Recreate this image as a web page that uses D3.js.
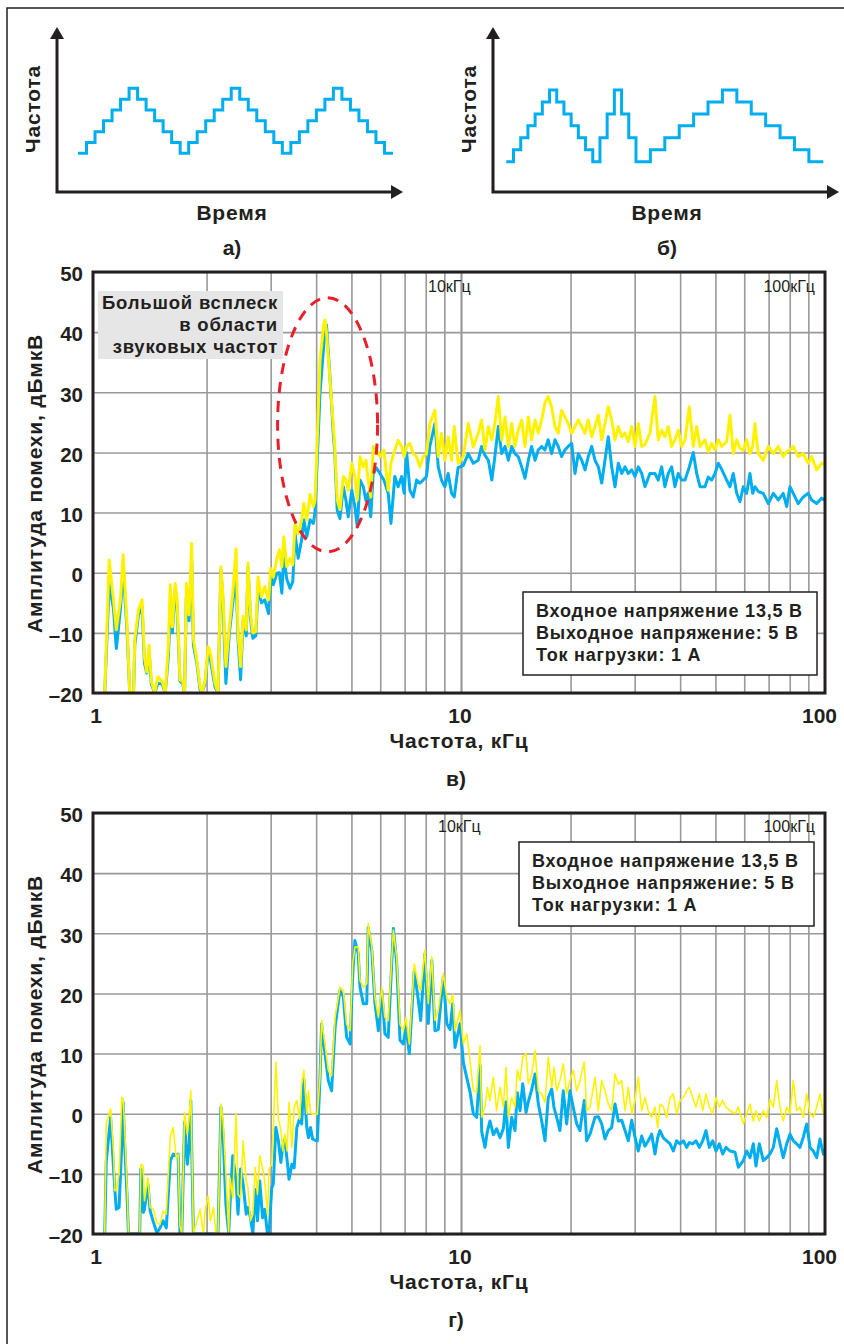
<!DOCTYPE html>
<html>
<head>
<meta charset="utf-8">
<script src="https://cdn.jsdelivr.net/npm/d3@7"></script>
<style>
body { margin: 0; background: #fff; }
text { font-family: "Liberation Sans", Arial, sans-serif; fill: #231f20; }
</style>
</head>
<body>
<svg id="fig" width="844" height="1344"></svg>
<script>
// ---- step diagrams (a, б): frequency level per time slot
var levelsA = [0,1,2,3,4,5,6,5,4,3,2,1,0,1,2,3,4,5,6,5,4,3,2,1,0,1,2,3,4,5,6,5,4,3,2,1,0];
var slotsA  = [1,1,1,1,1,1,1,1,1,1,1,1,1,1,1,1,1,1,1,1,1,1,1,1,1,1,1,1,1,1,1,1,1,1,1,1,1];
var levelsB = [0,1,2,3,4,5,6,5,4,3,2,1,0,2,4,6,4,2,0,1,2,3,4,5,6,5,4,3,2,1,0];
var slotsB  = [1,1,1,1,1,1,1,1,1,1,1,1,1,1,1,1,1,1,2,2,2,2,2,2,2,2,2,2,2,2,2];

// ---- spectrum axes
var yTicks = [50,40,30,20,10,0,-10,-20];
var xGrid = [2,3,4,5,6,7,8,9,10,20,30,40,50,60,70,80,90];
var xLabels = [1,10,100];

// ---- spectrum в) (kHz, dBuV)
var freqV = [
  1.05,1.08,1.11,1.13,1.16,1.18,1.21,1.23,1.26,1.27,
  1.30,1.33,1.35,1.37,1.39,1.41,1.44,1.47,1.51,1.54,
  1.57,1.59,1.61,1.64,1.66,1.69,1.72,1.74,1.76,1.79,
  1.82,1.84,1.88,1.92,1.94,1.98,2.02,2.05,2.11,2.15,
  2.19,2.22,2.26,2.31,2.36,2.41,2.44,2.48,2.52,2.57,
  2.60,2.64,2.68,2.73,2.77,2.83,2.89,2.96,3.00,3.05,
  3.12,3.17,3.22,3.26,3.32,3.39,3.45,3.50,3.57,3.65,
  3.70,3.77,3.85,3.93,3.97,4.01,4.10,4.20,4.23,4.27,
  4.36,4.46,4.50,4.57,4.65,4.75,4.83,4.90,5.01,5.11,
  5.19,5.28,5.39,5.48,5.56,5.65,5.74,5.86,5.99,6.14,
  6.31,6.42,6.58,6.72,6.87,6.98,7.09,7.24,7.39,7.55,
  7.71,7.87,8.04,8.21,8.48,8.66,8.84,9.03,9.22,9.42,
  9.58,9.82,10.14,10.47,10.81,11.15,11.39,11.64,11.89,12.15,
  12.39,12.66,12.93,13.21,13.49,13.78,14.06,14.36,14.68,14.99,
  15.31,15.63,15.97,16.30,16.66,17.00,17.36,17.74,18.12,18.50,
  18.89,19.29,19.70,20.14,20.57,21.00,21.46,21.91,22.37,22.86,
  23.34,23.84,24.36,24.86,25.39,25.94,26.49,27.05,27.64,28.22,
  28.81,29.44,30.06,30.70,31.36,32.02,33.04,34.10,34.82,35.58,
  36.33,37.10,37.90,38.70,39.52,40.40,41.25,42.39,43.47,44.41,
  45.35,46.80,47.78,48.82,49.86,50.91,52.02,53.69,54.82,55.98,
  57.20,58.40,59.63,60.92,62.21,63.28,64.20,65.55,67.66,69.87,
  72.10,74.41,76.79,78.47,80.11,81.81,84.41,87.14,89.94,91.90,
  94.85,97.93,100
];
var yellowV = [
  -20,2.1,-4.5,-9.5,-4.5,3,-9,-20,-20,-11,
  -6.2,-4.5,-14,-16.5,-12,-18,-20,-17.3,-18,-20,
  -12.3,-2,-9,-1.8,-4.5,-17.8,-18.1,-20,-1.8,-7,
  4.9,-11,-14.5,-19,-20,-18.1,-12.3,-13.4,-18.4,-20,
  1,-4,-15.6,-9,-3.4,4,-10,-15.6,-7.3,-9.5,
  1.6,-6.8,-10,-9.8,-0.7,-4,-2.3,-4.5,0.7,-0.7,
  2.4,3.8,1,6,1,2.4,1.3,8.2,6.5,8.8,
  11.5,8.8,13,11,12,18.7,35.4,41.5,42,40,
  32.6,24.3,21,12.1,10.5,16,15.4,13.7,18.2,16,
  12.1,19.3,17.6,18.7,15.4,12.6,21,20.4,19.3,20.4,
  13.7,18.2,20.4,22,21,19.3,21,21.5,19.8,19.3,
  17.6,19.3,19.8,24.8,27,19.3,23.2,18.7,22.6,18.7,
  24.3,18.2,19.3,24.8,20.9,23.2,25.4,20.4,24.3,22.1,
  24.8,29.3,22.1,25.9,21,24.8,21,23.7,25.4,21,
  25.9,22.1,25.4,23.2,25.4,28.2,29.3,27.6,24.3,23.2,
  27,25.9,24.8,23.2,24.3,25.4,24.3,23.2,25.4,22.6,
  24.3,26.2,22.1,24.8,27.6,25.4,22.1,24.3,22.6,23.2,
  21.8,24.3,21,24.8,21,21.3,23.2,29.3,22.1,23.7,
  22.6,24.3,21,22.1,23.7,21,22.1,27.6,21,24.3,
  21,22.1,20.1,21.5,20.4,22.1,21,21.8,26.2,19.8,
  22.1,20.7,20.3,22.1,19.8,21,24.8,19.8,18.7,21,
  19.8,21,19.3,20.1,20.4,21,19.3,19.8,18.2,19.3,
  17.1,18.2,18
];
var blueV = [
  -20,-1.8,-6,-12.6,-6,0.7,-10,-20,-20,-12,
  -7,-5.6,-15,-16.7,-13,-18.5,-20,-18.4,-18.5,-20,
  -14,-6.2,-10,-2.6,-6,-18,-18.5,-20,-4,-8,
  2.1,-12,-15,-19.5,-20,-18.5,-13,-14.5,-19,-20,
  0.5,-5,-18.4,-10,-5,-0.7,-11,-17.8,-8,-10.5,
  1,-7.5,-10.9,-10.5,-2.6,-5,-4.5,-6.8,-0.6,-2,
  -0.1,0,-3.4,3,-1,-2.6,-1.5,6.5,2.4,5.5,
  8.8,6,8.8,8.2,10,16,30,38,40,41.2,
  33,23,20,10.4,9,14.3,12,9.3,13.7,11,
  7.6,15.4,14.3,12,13.2,9.3,16.5,17.4,16.5,15.4,
  13.2,8.2,16,14.3,16,13.2,20,13.7,12.6,15.4,
  14.9,15.4,16,21,24.8,17.6,15.4,14.3,16.5,13.2,
  12.6,17.5,17.8,19.8,18.2,18.7,21,19.5,18.7,15.4,
  19.3,24.3,19.8,21,18.7,21,19.8,19.3,17.6,15.7,
  18.7,21,18.7,20.4,21,20.4,22.1,19.8,22.1,21,
  19.3,20.4,21,21.5,16.5,19.8,18.7,17.1,19.3,21,
  18.7,17.6,14.9,18.7,22.6,17.6,14.3,18.2,16.5,17.6,
  16.5,17.1,16,17.6,16.5,14.3,16.5,16.5,15.4,17.6,
  14.3,16.5,17.6,14.3,16.5,15.4,15.4,17.6,20,16.5,
  14.3,14.3,15.9,15.4,16.5,18.2,17.2,15.4,14.3,16.5,
  13.2,11.8,14.3,13.2,16.5,13.2,14.3,13.5,13.2,11.5,
  13.2,12.1,13.2,11,14.3,13.2,11.5,12.6,13.2,12.1,
  11.5,12.4,12
];

// ---- spectrum г) (kHz, dBuV)
var freqG = [
  1.05,1.06,1.09,1.11,1.12,1.13,1.15,1.17,1.18,1.19,
  1.21,1.22,1.31,1.32,1.34,1.35,1.38,1.40,1.43,1.46,
  1.49,1.52,1.55,1.59,1.62,1.65,1.67,1.69,1.71,1.74,
  1.77,1.79,1.81,1.84,1.92,1.96,1.98,2.02,2.05,2.09,
  2.12,2.15,2.19,2.22,2.26,2.30,2.32,2.36,2.41,2.44,
  2.48,2.52,2.57,2.60,2.64,2.68,2.72,2.76,2.80,2.85,
  2.89,2.94,2.97,3.02,3.05,3.10,3.15,3.20,3.24,3.28,
  3.33,3.37,3.43,3.48,3.54,3.60,3.65,3.70,3.77,3.81,
  3.86,3.91,3.97,4.03,4.10,4.14,4.23,4.32,4.41,4.51,
  4.65,4.75,4.85,4.96,5.04,5.11,5.22,5.28,5.39,5.51,
  5.56,5.69,5.80,5.93,6.06,6.18,6.31,6.52,6.66,6.80,
  6.94,7.06,7.21,7.44,7.63,7.75,7.96,8.13,8.31,8.48,
  8.66,8.94,9.14,9.33,9.49,9.63,9.94,10.15,10.37,10.59,
  10.81,11.04,11.28,11.40,11.64,11.81,12.01,12.27,12.53,12.80,
  13.07,13.29,13.49,13.78,14.07,14.28,14.53,14.78,15.09,15.31,
  15.64,15.97,16.31,16.66,17.01,17.37,17.75,18.01,18.32,18.70,
  19.10,19.51,19.92,20.35,20.79,21.22,21.81,22.14,22.62,23.34,
  23.84,24.35,24.87,25.39,25.94,26.49,27.05,27.64,28.22,28.82,
  29.44,30.06,30.69,31.36,32.02,32.70,33.41,34.11,34.70,35.21,
  35.96,36.74,37.52,38.30,39.14,39.96,40.81,41.69,42.38,43.30,
  44.21,45.16,46.14,47.11,48.10,49.15,50.18,51.24,52.36,53.46,
  54.83,56.61,57.79,59.65,60.94,62.23,63.54,64.63,66.00,67.69,
  69.16,70.61,72.11,73.67,75.23,76.81,78.49,80.14,81.83,83.60,
  85.36,87.17,89.08,90.95,92.88,94.89,96.89,98.93,100
];
var yellowG = [
  -20,-1.7,0.8,-6.2,-12.8,-12.8,-10,2.7,2.5,-1.7,
  -12.3,-20,-20,-8.4,-8.7,-14.5,-10.6,-15.6,-15.9,-18.1,
  -18.4,-16.2,-16.7,-3.7,-2.3,-7.3,-6.7,-18.7,-20,0.2,
  -3.4,-0.9,3.8,-20,-15.9,-20,-16.2,-13.7,-17.8,-15.6,
  -19.8,-20,1.6,-1.2,-10,-19.8,-10.6,-14,0,-13.4,
  -14,-4.5,-11.2,-12.3,-17.8,-16.7,-8.9,-13.4,-7,-9,
  -11.2,-16.7,-9.2,-8.4,-2.3,8.6,-0.9,-2.6,-6.2,-3.4,
  -6.2,1.9,-5.6,1.1,2.2,-0.9,4.9,7.2,0,3.8,
  0.2,-0.1,-0.1,-0.1,6.1,15.5,11.6,7.2,6.3,16.1,
  21,20.5,14.9,13.8,24.9,27.7,27.7,22.2,21,21.6,
  31.6,27.7,19.4,16,21,16,15.5,30.5,26,14.9,
  13.8,16,11.6,24.9,21.6,20.5,27.2,18.3,26.1,15.5,
  17.2,23.3,19.4,18.3,19.9,13.8,17.2,11.6,13.3,8.8,
  3.8,3.6,11.3,-0.6,1.1,4.4,2.2,6.1,0.5,4.4,
  1.1,7.7,-0.6,2.7,1.1,7.2,5.5,9.4,10,5,
  6.6,10.5,3.8,3.3,1.9,9.4,4.4,7.7,3.8,5.5,
  8.3,3.3,5.5,7.2,3.8,5.5,8.6,0.5,1.1,6.1,
  0.5,5.5,3.8,1.6,0.5,6.6,4.9,5.5,0.5,4.4,
  0,2.2,6.1,0.5,2.7,0.5,-0.6,1.1,-2.3,1.6,
  1.1,-0.6,2.7,3.3,0,2.2,2.7,3.8,4.4,2.7,
  1.1,3.3,0.5,3.3,1.1,0,2.7,1.1,2.2,1.1,
  0.5,0,1.1,-1.7,0,1.6,-1.2,0.5,-1.2,0.5,
  -0.6,2.4,1.1,5.5,1.1,-1.2,1.1,0,5.5,0.5,
  1.1,-0.6,3.3,0,-0.6,1.1,3.3,0,0.5
];
var blueG = [
  -20,-8,-0.6,-9,-12.8,-15.9,-15.6,-5,1.9,-4.5,
  -14,-20,-20,-9.2,-16.4,-15.9,-11.7,-16.2,-18.1,-19.8,
  -19,-17.8,-19,-7.8,-6.7,-7,-6.7,-20,-20,-1.4,
  -8.4,-5.6,2.2,-20,-20,-20,-20,-20,-20,-20,
  -20,-20,1.1,-3.4,-15.1,-19.8,-15.1,-7,-11.2,-16.7,
  -9.2,-11.7,-16.7,-15.6,-17.3,-20,-12.6,-17.8,-11.2,-17.3,
  -15.9,-20,-20,-12.3,-11.7,-2.3,-4.5,-8.1,-5.3,-4.2,
  -7.8,-10.9,-8.4,-9,-2.3,-0.9,-1.7,5.8,-2.3,-4,
  -2.3,-4.2,-4.4,-4.5,6.1,14.9,10,5.5,3.8,14.5,
  20.5,19.5,12.7,11.6,23,28.8,26.6,21,18.3,18.3,
  31,27,18.5,13.8,20.5,13.3,12.7,30.8,25,12.2,
  11.6,14.4,10,23.8,19,15.5,26.6,15,25.5,13.8,
  14,22.7,15,14,18.3,11,15,8.5,6,3.6,
  0,-0.6,8,-3,-5.6,-3,-1.2,-3.5,-2.5,-4,
  -2.5,2,-5.6,-0.6,-2.8,3.5,0.5,5,0.2,2,
  4,6.6,1.6,-1.2,-4.5,2.7,4.1,1,-0.6,-2.8,
  3.8,-1.7,3.8,1,-1.7,-2.8,2.2,-4.5,-3.4,-0.6,
  -0.5,-1.7,-4.2,-2.8,-2.3,1.6,-1.2,-1.1,-2.8,-4.5,
  -1.1,-3.9,-6.2,-3.7,-5.4,-4.5,-3.4,-6.7,-4,-2.8,
  -4,-4.5,-5,-6.2,-4.5,-5,-4.5,-5.6,-4.8,-5,
  -4.5,-5.6,-4.5,-2.8,-5.6,-4.5,-6.2,-5,-6.7,-5.6,
  -6.2,-6.4,-8.9,-7.8,-6.2,-7.3,-5,-8.7,-5,-7.8,
  -7.3,-6.7,-5.6,-2.5,-5,-7.3,-5,-3.4,-4.5,-5,
  -5.6,-3.9,-1.7,-5.6,-6.2,-7.3,-4.2,-6.7,-6
];

var infoLines = ["Входное напряжение 13,5 В", "Выходное напряжение: 5 В", "Ток нагрузки: 1 А"];
var burstLines = ["Большой всплеск", "в области", "звуковых частот"];

var BLUE = "#00aeef", YELLOW = "#fff200", INK = "#231f20";
var svg = d3.select("#fig");

// outer frame (cut by the page edge on the right and bottom)
svg.append("rect").attr("x", 7).attr("y", 8).attr("width", 870).attr("height", 1370)
    .attr("fill", "none").attr("stroke", INK).attr("stroke-width", 1.5);

function drawSteps(levels, slots, o) {
    var g = svg.append("g");
    var pts = [], t = 0;
    levels.forEach(function(lv, i) { pts.push({t: t, lv: lv}); t += slots[i]; });
    pts.push({t: t, lv: levels[levels.length - 1]});

    var x = d3.scaleLinear().domain([0, t]).range([o.x0, o.x1]);
    var y = d3.scaleLinear().domain([0, 6]).range([o.yLow, o.yHigh]);
    var line = d3.line().x(function(d) { return x(d.t); }).y(function(d) { return y(d.lv); })
        .curve(d3.curveStepAfter);

    g.append("path").attr("d", line(pts)).attr("fill", "none")
        .attr("stroke", BLUE).attr("stroke-width", 3);

    // axes with arrows
    g.append("path").attr("fill", "none").attr("stroke", INK).attr("stroke-width", 3)
        .attr("d", "M" + o.ax + "," + (o.top + 10) + "V" + o.ay + "H" + (o.right - 10));
    g.append("path").attr("fill", INK)
        .attr("d", "M" + o.ax + "," + o.top + "l-7,12h14z");
    g.append("path").attr("fill", INK)
        .attr("d", "M" + o.right + "," + o.ay + "l-12,-7v14z");

    g.append("text").attr("transform", "translate(" + o.yTitleX + ",109) rotate(-90)")
        .attr("text-anchor", "middle").attr("font-size", 21).attr("font-weight", "bold")
        .style("letter-spacing", "0.8px").text("Частота");
    g.append("text").attr("x", o.mid).attr("y", 220).attr("text-anchor", "middle")
        .attr("font-size", 21).attr("font-weight", "bold").style("letter-spacing", "0.8px").text("Время");
    g.append("text").attr("x", o.mid).attr("y", 255).attr("text-anchor", "middle")
        .attr("font-size", 21).attr("font-weight", "bold").text(o.label);
}

drawSteps(levelsA, slotsA, {x0: 78, x1: 393, yLow: 153.3, yHigh: 88.3, ax: 57, ay: 192, top: 27,
    right: 403, yTitleX: 40, mid: 232, label: "а)"});
drawSteps(levelsB, slotsB, {x0: 506.3, x1: 823.3, yLow: 161.7, yHigh: 90, ax: 493, ay: 192, top: 27,
    right: 839, yTitleX: 476, mid: 667, label: "б)"});

function fmtTick(d) { return d < 0 ? "–" + Math.abs(d) : String(d); }

function drawSpectrum(top, freq, yel, blu, opt) {
    var W = 732, H = 421;
    var g = svg.append("g").attr("transform", "translate(93," + top + ")");
    var x = d3.scaleLog().domain([1, 100]).range([4, W]);
    var y = d3.scaleLinear().domain([-20, 50]).range([H, 0]);

    // vertical grid
    g.append("g").attr("transform", "translate(0," + H + ")")
        .call(d3.axisBottom(x).tickValues(xGrid).tickSize(-H).tickFormat(""))
        .call(function(a) { a.select(".domain").remove(); })
        .selectAll("line").attr("stroke", "#999").attr("stroke-width", function(d) { return d === 10 ? 2.2 : 1.6; });

    // horizontal grid + labels
    var ya = g.append("g")
        .call(d3.axisLeft(y).tickValues(yTicks).tickSize(-W).tickPadding(10).tickFormat(fmtTick));
    ya.select(".domain").remove();
    ya.selectAll("line").attr("stroke", "#999").attr("stroke-width", 1.6);
    ya.selectAll("text").attr("font-size", 20.5).attr("font-weight", "bold").attr("dy", "0.43em")
        .attr("font-family", '"Liberation Sans", Arial, sans-serif').attr("fill", INK);

    var clipId = "clip" + top;
    g.append("clipPath").attr("id", clipId).append("rect").attr("width", W).attr("height", H);

    function series(vals) {
        return freq.map(function(f, i) { return {f: f, v: vals[i]}; });
    }
    var line = d3.line().x(function(d) { return x(d.f); }).y(function(d) { return y(d.v); });

    var lines = g.append("g").attr("clip-path", "url(#" + clipId + ")");
    lines.append("path").attr("d", line(series(blu))).attr("fill", "none")
        .attr("stroke", BLUE).attr("stroke-width", 3).attr("stroke-linejoin", "round");
    lines.append("path").attr("d", line(series(yel))).attr("fill", "none")
        .attr("stroke", YELLOW).attr("stroke-width", opt.yellowWidth).attr("stroke-linejoin", "round");

    // frame
    g.append("rect").attr("width", W).attr("height", H).attr("fill", "none")
        .attr("stroke", INK).attr("stroke-width", 3);

    // decade markers
    g.append("text").attr("x", x(10) - opt.kHzShift).attr("y", opt.kHzY).attr("font-size", 16)
        .text("10кГц");
    g.append("text").attr("x", x(100) - 10).attr("y", opt.kHzY).attr("font-size", 16)
        .attr("text-anchor", "end").text("100кГц");

    // x labels
    g.selectAll(".xl").data(xLabels).enter().append("text")
        .attr("x", function(d) { return d === 100 ? x(d) + 12 : x(d) - 1; })
        .attr("y", H + 30).attr("text-anchor", function(d) { return d === 100 ? "end" : "middle"; })
        .attr("font-size", 21).attr("font-weight", "bold").text(function(d) { return d; });

    g.append("text").attr("x", 366).attr("y", H + 55).attr("text-anchor", "middle")
        .attr("font-size", 21).attr("font-weight", "bold").style("letter-spacing", "0.8px")
        .text("Частота, кГц");
    g.append("text").attr("x", 363).attr("y", H + 93).attr("text-anchor", "middle")
        .attr("font-size", 21).attr("font-weight", "bold").text(opt.label);

    g.append("text").attr("transform", "translate(-51," + (H / 2 + 1) + ") rotate(-90)")
        .attr("text-anchor", "middle").attr("font-size", 21).attr("font-weight", "bold")
        .style("letter-spacing", "0.8px").text("Амплитуда помехи, дБмкВ");

    // info box
    var b = opt.box;
    g.append("rect").attr("x", b.x).attr("y", b.y).attr("width", b.w).attr("height", b.h)
        .attr("fill", "#fff").attr("stroke", INK).attr("stroke-width", 1.5);
    g.selectAll(".info").data(infoLines).enter().append("text")
        .attr("x", b.x + 13).attr("y", function(d, i) { return b.y + 25 + i * 22.2; })
        .attr("font-size", 18).attr("font-weight", "bold").style("letter-spacing", "0.8px")
        .text(function(d) { return d; });

    return {g: g, x: x, y: y};
}

var chartV = drawSpectrum(272, freqV, yellowV, blueV, {yellowWidth: 3, label: "в)", kHzShift: 33, kHzY: 20,
    box: {x: 430, y: 320, w: 294, h: 83}});
var chartG = drawSpectrum(813, freqG, yellowG, blueG, {yellowWidth: 1.6, label: "г)", kHzShift: 23, kHzY: 19,
    box: {x: 426, y: 29, w: 295, h: 84}});

// annotation of the audio-band burst on chart в)
var gv = chartV.g;
gv.append("rect").attr("x", 5).attr("y", 19).attr("width", 185).attr("height", 68).attr("fill", "#e6e6e6");
gv.selectAll(".burst").data(burstLines).enter().append("text")
    .attr("x", 185).attr("y", function(d, i) { return 37.3 + i * 21.7; })
    .attr("text-anchor", "end").attr("font-size", 18.5).attr("font-weight", "bold")
    .style("letter-spacing", "0.8px").text(function(d) { return d; });
gv.append("ellipse").attr("cx", chartV.x(4.3)).attr("cy", chartV.y(24.6)).attr("rx", 50).attr("ry", 127)
    .attr("fill", "none").attr("stroke", "#e8202a").attr("stroke-width", 3).attr("stroke-dasharray", "11,8");
</script>
</body>
</html>
